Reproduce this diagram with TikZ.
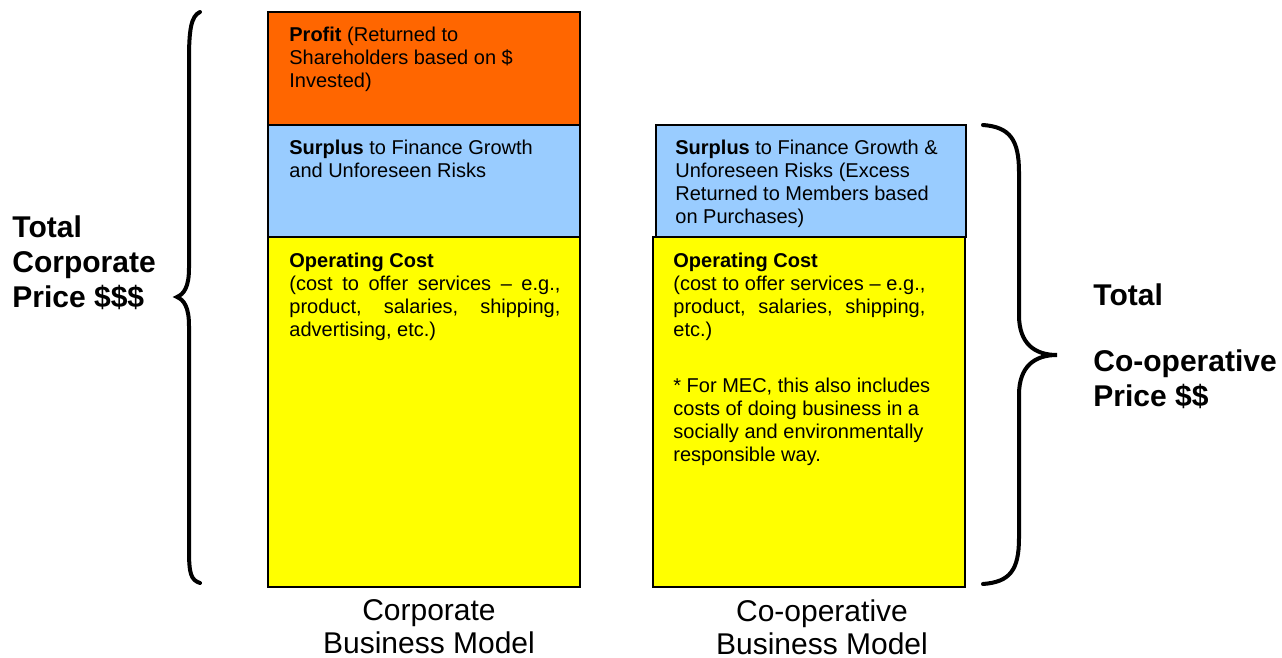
\documentclass[tikz,border=0pt]{standalone}
\usepackage{fontspec}
\setmainfont{Liberation Sans}
\usepackage{xcolor}
\definecolor{profitorange}{RGB}{255,102,0}
\definecolor{surplusblue}{RGB}{153,204,255}
\definecolor{costyellow}{RGB}{255,255,0}

\begin{document}
\begin{tikzpicture}[x=0.5pt,y=-0.5pt,
	boxtext/.style={anchor=north west,inner sep=0pt,align=left,font=\fontsize{10}{11.5}\selectfont},
	pricetext/.style={anchor=north west,inner sep=0pt,align=left,font=\fontsize{15}{17.5}\selectfont\bfseries},
	modeltext/.style={anchor=north,inner sep=0pt,align=center,font=\fontsize{15}{16.5}\selectfont},
	brace/.style={line width=2pt,line cap=round}]
	\useasboundingbox (0,0) rectangle (1282,658);
	
	% corporate column
	\draw[black,fill=profitorange,line width=1pt] (268,12) rectangle (580,125);
	\draw[black,fill=surplusblue,line width=1pt] (268,125) rectangle (580,237);
	\draw[black,fill=costyellow,line width=1pt] (268,237) rectangle (580,587);
	
	% co-operative column
	\draw[black,fill=surplusblue,line width=1pt] (656,125) rectangle (966,237);
	\draw[black,fill=costyellow,line width=1pt] (653,237) rectangle (965,587);
	
	% box texts
	\node[boxtext] (profit) at (289,27) {\textbf{Profit} (Returned to\\Shareholders based on \$\\Invested)};
	\node[boxtext] (corpsurplus) at (289,140) {\textbf{Surplus} to Finance Growth\\and Unforeseen Risks};
	\node[boxtext] (coopsurplus) at (675,140) {\textbf{Surplus} to Finance Growth \&\\Unforeseen Risks (Excess\\Returned to Members based\\on Purchases)};
	\node[boxtext] (corpcost) at (289,253) {\textbf{Operating Cost}\\\makebox[135.5pt][s]{(cost to offer services – e.g.,}\\\makebox[135.5pt][s]{product, salaries, shipping,}\\advertising, etc.)};
	\node[boxtext] (coopcost) at (673,253) {\textbf{Operating Cost}\\\makebox[126pt][s]{(cost to offer services – e.g.,}\\\makebox[126pt][s]{product, salaries, shipping,}\\etc.)};
	\node[boxtext] (mec) at (673,378) {* For MEC, this also includes\\costs of doing business in a\\socially and environmentally\\responsible way.};
	
	% braces
	\draw[brace] (200,12) .. controls (191,16) and (189,30) .. (189,60) -- (189,268) .. controls (189,287) and (184,294) .. (177,297) .. controls (184,300) and (189,307) .. (189,326) -- (189,550) .. controls (189,574) and (191,580) .. (200,583);
	\draw[brace] (983,125) .. controls (1010,127) and (1019,140) .. (1019,172) -- (1019,315) .. controls (1019,344) and (1035,355) .. (1057,355) .. controls (1035,355) and (1019,366) .. (1019,395) -- (1019,538) .. controls (1019,570) and (1010,582) .. (983,584);
	
	% price labels
	\node[pricetext] (corpprice) at (12,215) {Total\\Corporate\\Price \$\$\$};
	\node[pricetext] (coopprice) at (1093,283) {Total\\[15.5pt]Co-operative\\Price \$\$};
	
	% model labels
	\node[modeltext] (corpmodel) at (429,599) {Corporate\\Business Model};
	\node[modeltext] (coopmodel) at (822,599) {Co-operative\\Business Model};
\end{tikzpicture}
\end{document}
